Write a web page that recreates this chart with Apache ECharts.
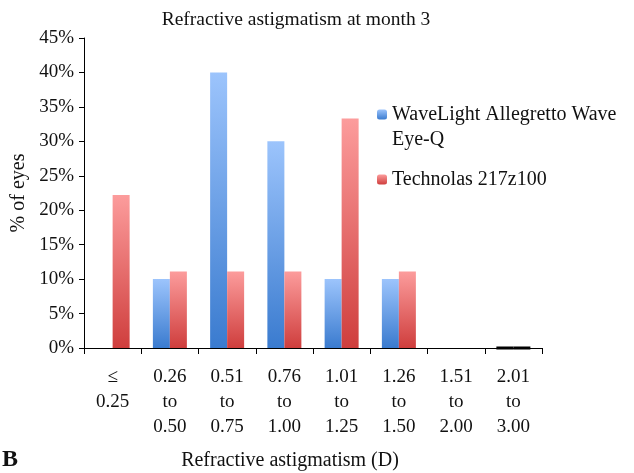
<!DOCTYPE html>
<html>
<head>
<meta charset="utf-8">
<script src="https://cdn.jsdelivr.net/npm/echarts@6/dist/echarts.min.js"></script>
<style>
  html, body { margin: 0; padding: 0; background: #fff; }
  #chart { width: 634px; height: 473px; }
</style>
</head>
<body>
<div id="chart"></div>
<script>
// data
const categories = ['≤\n0.25', '0.26\nto\n0.50', '0.51\nto\n0.75', '0.76\nto\n1.00',
  '1.01\nto\n1.25', '1.26\nto\n1.50', '1.51\nto\n2.00', '2.01\nto\n3.00']
const waveLight = [0, 10, 40, 30, 10, 10, 0, 0]
const technolas = [22.2, 11.1, 11.1, 11.1, 33.3, 11.1, 0, 0]
const yTicks = [0, 5, 10, 15, 20, 25, 30, 35, 40, 45]
// the last group is drawn as a black line at zero in the original
const outlinedIndex = [7]

const FONT = '"Liberation Serif", "DejaVu Serif", serif'
const NAME_A = 'WaveLight Allegretto Wave\nEye-Q'
const NAME_B = 'Technolas 217z100'

function grad(top, bottom) {
  return new echarts.graphic.LinearGradient(0, 0, 0, 1, [
    { offset: 0, color: top },
    { offset: 1, color: bottom }
  ])
}

function toData(values) {
  return values.map((v, i) => outlinedIndex.includes(i)
    ? { value: v, itemStyle: { borderColor: '#000', borderWidth: 3 } }
    : v)
}

const myChart = echarts.init(document.getElementById('chart'))
const option = {
  animation: false,
  textStyle: { fontFamily: FONT },
  title: [
    {
      text: 'Refractive astigmatism at month 3',
      left: 291,
      top: 5,
      textAlign: 'center',
      textStyle: { fontFamily: FONT, fontSize: 19.5, fontWeight: 'normal', color: '#111' }
    },
    {
      text: 'Refractive astigmatism (D)',
      left: 285,
      top: 446,
      textAlign: 'center',
      textStyle: { fontFamily: FONT, fontSize: 20, fontWeight: 'normal', color: '#111' }
    },
    {
      text: 'B',
      left: 2,
      top: 448,
      padding: 0,
      textStyle: { fontFamily: FONT, fontSize: 24, fontWeight: 'bold', color: '#111' }
    }
  ],
  grid: { left: 84, right: 92, top: 38, bottom: 125 },
  legend: {
    orient: 'vertical',
    left: 372,
    top: 72,
    itemWidth: 10,
    itemHeight: 10,
    itemGap: 15,
    data: [NAME_A, NAME_B],
    // a blank line above the two-line label keeps the swatch level with its first line
    formatter: name => name === NAME_A ? '\n' + name : name,
    textStyle: { fontFamily: FONT, fontSize: 20, color: '#111', lineHeight: 25 }
  },
  xAxis: {
    type: 'category',
    data: categories,
    axisLine: { lineStyle: { color: '#000', width: 1 } },
    axisTick: { show: true, length: 6, lineStyle: { color: '#000' } },
    axisLabel: {
      interval: 0,
      margin: 17,
      fontFamily: FONT,
      fontSize: 19,
      color: '#111',
      lineHeight: 25
    }
  },
  yAxis: {
    type: 'value',
    min: yTicks[0],
    max: yTicks[yTicks.length - 1],
    interval: 5,
    name: '% of eyes',
    nameLocation: 'middle',
    nameGap: 51,
    nameTextStyle: { fontFamily: FONT, fontSize: 20, color: '#111' },
    axisLine: { show: true, lineStyle: { color: '#000', width: 1 } },
    axisTick: { show: true, length: 5, lineStyle: { color: '#000' } },
    splitLine: { show: false },
    axisLabel: {
      fontFamily: FONT,
      fontSize: 19,
      color: '#111',
      margin: 10,
      formatter: '{value}%'
    }
  },
  series: [
    {
      name: NAME_A,
      type: 'bar',
      barWidth: 17,
      barGap: 0,
      itemStyle: { color: grad('#9cc4fc', '#3a7bcf') },
      data: toData(waveLight)
    },
    {
      name: NAME_B,
      type: 'bar',
      barWidth: 17,
      barGap: 0,
      itemStyle: { color: grad('#fc9c9c', '#cf3e3d') },
      data: toData(technolas)
    }
  ]
}
myChart.setOption(option)
</script>
</body>
</html>
